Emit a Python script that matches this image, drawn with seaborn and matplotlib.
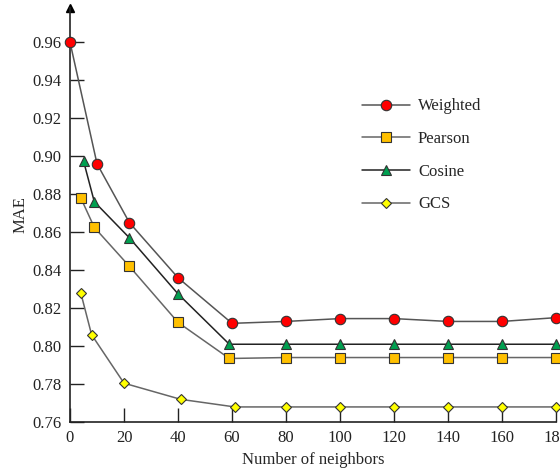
import numpy as np
import pandas as pd
import matplotlib
matplotlib.use("Agg")
import matplotlib.pyplot as plt
import seaborn as sns

# values
x_weighted = [0, 10, 22, 40, 60, 80, 100, 120, 140, 160, 180]
weighted = [0.960, 0.896, 0.865, 0.836, 0.812, 0.813, 0.8145, 0.8145, 0.813, 0.813, 0.815]
x_pearson = [4, 9, 22, 40, 59, 80, 100, 120, 140, 160, 180]
pearson = [0.878, 0.8625, 0.842, 0.8125, 0.7935, 0.794, 0.794, 0.794, 0.794, 0.794, 0.794]
x_cosine = [5, 9, 22, 40, 59, 80, 100, 120, 140, 160, 180]
cosine = [0.8975, 0.876, 0.857, 0.8275, 0.801, 0.801, 0.801, 0.801, 0.801, 0.801, 0.801]
x_gcs = [4, 8, 20, 41, 61, 80, 100, 120, 140, 160, 180]
gcs = [0.828, 0.806, 0.7805, 0.772, 0.768, 0.768, 0.768, 0.768, 0.768, 0.768, 0.768]

sns.set_style("ticks")
plt.rcParams['font.family'] = ['Liberation Serif', 'DejaVu Serif']

fig = plt.figure(figsize=(5.6, 4.68), dpi=100)
ax = fig.add_axes([0.125, 0.098, 0.868, 0.885])

series = [
    ("Weighted", x_weighted, weighted, "o", "#ff0000", 7.5, "#555555"),
    ("Pearson", x_pearson, pearson, "s", "#ffc000", 7, "#666666"),
    ("Cosine", x_cosine, cosine, "^", "#00a050", 7.5, "#222222"),
    ("GCS", x_gcs, gcs, "D", "#ffff00", 5.5, "#666666"),
]
for name, xs, ys, mk, fc, ms, lc in series:
    sns.lineplot(x=xs, y=ys, ax=ax, label=name, color=lc, linewidth=1.1,
                 marker=mk, markersize=ms, markerfacecolor=fc,
                 markeredgecolor="#333333", markeredgewidth=0.8,
                 clip_on=False, zorder=3)

ax.set_xlim(0, 180)
ax.set_ylim(0.76, 0.978)
ax.set_xticks(np.arange(0, 181, 20))
ax.set_yticks(np.arange(0.76, 0.961, 0.02))
ax.set_yticklabels(["%.2f" % v for v in np.arange(0.76, 0.961, 0.02)])
ax.tick_params(direction="in", length=10, width=1, colors="#222222",
               labelsize=12, pad=6)
for s in ["top", "right"]:
    ax.spines[s].set_visible(False)
for s in ["left", "bottom"]:
    ax.spines[s].set_color("#222222")
    ax.spines[s].set_linewidth(1.2)
ax.plot(0, 1, "^", color="black", markersize=6, transform=ax.transAxes,
        clip_on=False)

ax.set_xlabel("Number of neighbors", fontsize=12, labelpad=4)
ax.set_ylabel("MAE", fontsize=12, labelpad=3)

leg = ax.legend(loc="upper left", bbox_to_anchor=(0.57, 0.818), frameon=False,
                fontsize=12, handlelength=2.85, labelspacing=1.0,
                handletextpad=0.5)

fig.savefig("out.png", dpi=100)
